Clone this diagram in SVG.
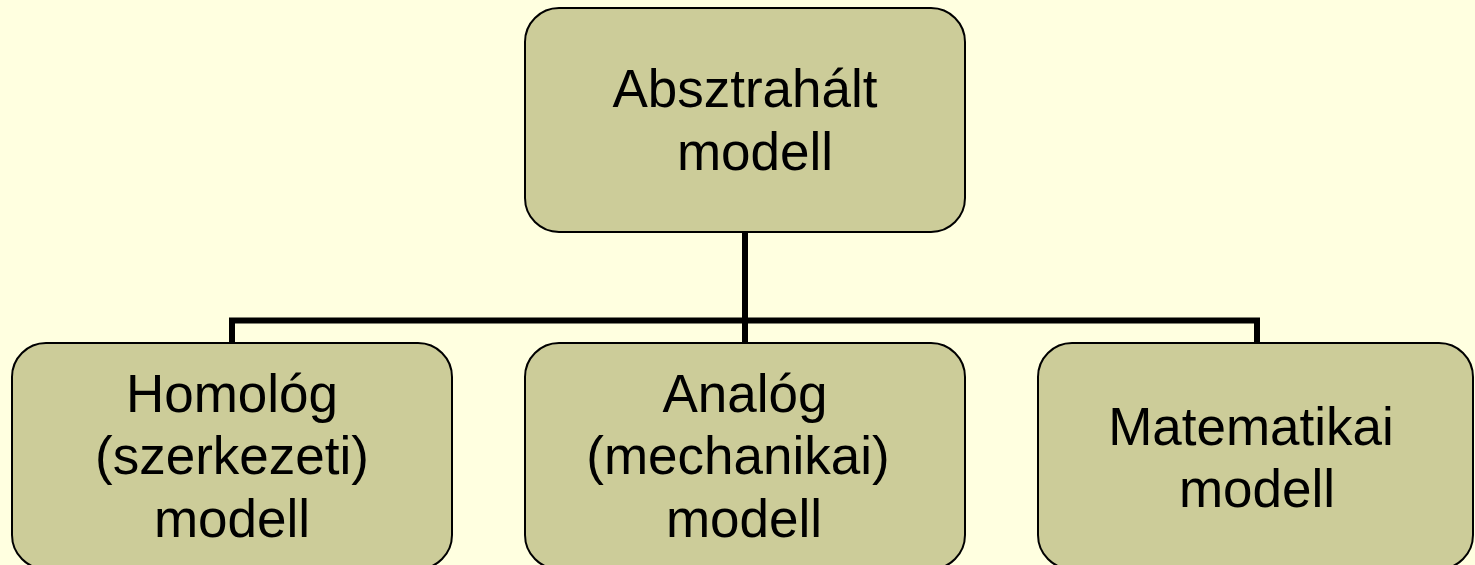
<svg xmlns="http://www.w3.org/2000/svg" width="1475" height="565" viewBox="0 0 1475 565">
<style>
.bg{fill:#FFFFE0}
.box{fill:#CCCC99;stroke:#000;stroke-width:2}
.lbl{font-family:"Liberation Sans",Arial,sans-serif;font-size:53px;fill:#000;text-anchor:middle}
.conn{fill:none;stroke:#000;stroke-width:6}
</style>
<rect class="bg" x="0" y="0" width="1475" height="565"/>
<g id="connectors">
<path class="conn" d="M745 232 V343"/>
<path class="conn" d="M232 343 V320.5 H1257 V343"/>
</g>
<g id="node-absztrahalt">
<rect class="box" x="525" y="8" width="440" height="224" rx="34" ry="34"/>
<text class="lbl" x="745" y="107">Absztrahált</text>
<text class="lbl" x="755" y="170">modell</text>
</g>
<g id="node-homolog">
<rect class="box" x="12" y="343" width="440" height="226" rx="34" ry="34"/>
<text class="lbl" x="232" y="412">Homológ</text>
<text class="lbl" x="232" y="474">(szerkezeti)</text>
<text class="lbl" x="232" y="537">modell</text>
</g>
<g id="node-analog">
<rect class="box" x="525" y="343" width="440" height="226" rx="34" ry="34"/>
<text class="lbl" x="745" y="412">Analóg</text>
<text class="lbl" x="738" y="474">(mechanikai)</text>
<text class="lbl" x="744" y="537">modell</text>
</g>
<g id="node-matematikai">
<rect class="box" x="1038" y="343" width="435" height="226" rx="34" ry="34"/>
<text class="lbl" x="1251" y="445">Matematikai</text>
<text class="lbl" x="1257" y="507">modell</text>
</g>
</svg>
